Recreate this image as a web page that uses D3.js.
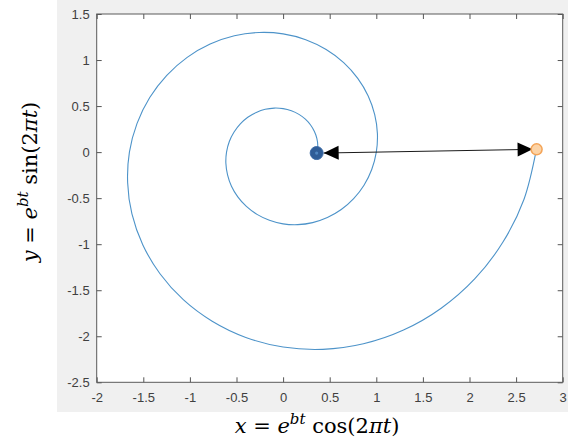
<!DOCTYPE html>
<html>
<head>
<meta charset="utf-8">
<script src="https://cdn.jsdelivr.net/npm/d3@7"></script>
<style>
  body { margin: 0; background: #fff; }
  .tick text { font-family: "Liberation Sans", Arial, sans-serif; font-size: 13px; fill: #404040; }
  .math { font-family: "DejaVu Serif", "Liberation Serif", serif; font-size: 21px; fill: #000; }
</style>
</head>
<body>
<div id="chart"></div>
<script>
// spiral points, about every 1/32 of a turn (start -> end)
const spiralX = [0.360, 0.372, 0.362, 0.336, 0.295, 0.239, 0.170, 0.089, 0.000, -0.095, -0.192, -0.288, -0.379, -0.459, -0.526, -0.577,
                 -0.607, -0.614, -0.596, -0.554, -0.486, -0.394, -0.280, -0.147, 0.000, 0.157, 0.317, 0.475, 0.624, 0.757, 0.868, 0.951,
                 1.000, 1.012, 0.983, 0.913, 0.801, 0.650, 0.462, 0.243, 0.000, -0.258, -0.523, -0.783, -1.029, -1.248, -1.431, -1.567,
                 -1.649, -1.668, -1.622, -1.506, -1.321, -1.071, -0.761, -0.400, 0.000, 0.426, 0.862, 1.292, 1.696, 2.058, 2.359, 2.584, 2.718];
const spiralY = [-0.010, 0.074, 0.150, 0.224, 0.295, 0.358, 0.410, 0.449, 0.472, 0.478, 0.465, 0.431, 0.379, 0.307, 0.218, 0.115,
                 0.000, -0.122, -0.247, -0.370, -0.486, -0.590, -0.676, -0.740, -0.779, -0.788, -0.766, -0.711, -0.624, -0.506, -0.360, -0.189,
                 0.000, 0.201, 0.407, 0.610, 0.801, 0.972, 1.114, 1.221, 1.284, 1.299, 1.263, 1.173, 1.029, 0.834, 0.593, 0.312,
                 0.000, -0.332, -0.672, -1.006, -1.321, -1.603, -1.837, -2.013, -2.117, -2.142, -2.082, -1.933, -1.696, -1.375, -0.977, -0.514, 0.030];

const startPoint = [0.36, -0.01];
const endPoint = [2.72, 0.03];

const xTicks = [-2, -1.5, -1, -0.5, 0, 0.5, 1, 1.5, 2, 2.5, 3];
const yTicks = [-2.5, -2, -1.5, -1, -0.5, 0, 0.5, 1, 1.5];

const W = 568, H = 447;
const margin = {top: 14, right: 5.3, bottom: 64.7, left: 96.7};

const svg = d3.select("#chart").append("svg")
    .attr("width", W)
    .attr("height", H);

// grey figure background
svg.append("rect")
    .attr("x", 57).attr("y", 0)
    .attr("width", W - 57).attr("height", 412)
    .attr("fill", "#f0f0f0");

const x = d3.scaleLinear().domain([-2, 3]).range([margin.left, W - margin.right]);
const y = d3.scaleLinear().domain([-2.5, 1.5]).range([H - margin.bottom, margin.top]);

svg.append("rect")
    .attr("x", x(-2)).attr("y", y(1.5))
    .attr("width", x(3) - x(-2)).attr("height", y(-2.5) - y(1.5))
    .attr("fill", "#fff");

const fmt = d => String(d);

// axes with inward ticks on every side
function styleAxis(g) {
    g.select(".domain").remove();
    g.selectAll(".tick line").attr("stroke", "#555");
}
svg.append("g")
    .attr("transform", "translate(0," + y(-2.5) + ")")
    .call(d3.axisBottom(x).tickValues(xTicks).tickFormat(fmt).tickSizeInner(-5).tickSizeOuter(0).tickPadding(10))
    .call(styleAxis);
svg.append("g")
    .attr("transform", "translate(0," + y(1.5) + ")")
    .call(d3.axisTop(x).tickValues(xTicks).tickFormat("").tickSizeInner(-5).tickSizeOuter(0))
    .call(styleAxis);
svg.append("g")
    .attr("transform", "translate(" + x(-2) + ",0)")
    .call(d3.axisLeft(y).tickValues(yTicks).tickFormat(fmt).tickSizeInner(-5).tickSizeOuter(0).tickPadding(7))
    .call(styleAxis);
svg.append("g")
    .attr("transform", "translate(" + x(3) + ",0)")
    .call(d3.axisRight(y).tickValues(yTicks).tickFormat("").tickSizeInner(-5).tickSizeOuter(0))
    .call(styleAxis);

// box
svg.append("rect")
    .attr("x", x(-2)).attr("y", y(1.5))
    .attr("width", x(3) - x(-2)).attr("height", y(-2.5) - y(1.5))
    .attr("fill", "none")
    .attr("stroke", "#5a5a5a")
    .attr("stroke-width", 1);

// spiral
const pts = spiralX.map((d, i) => [d, spiralY[i]]);
const line = d3.line()
    .x(d => x(d[0]))
    .y(d => y(d[1]))
    .curve(d3.curveCatmullRom.alpha(0.5));

svg.append("path")
    .datum(pts)
    .attr("d", line)
    .attr("fill", "none")
    .attr("stroke", "#4d93c9")
    .attr("stroke-width", 1.1);

// double headed arrow between the two points
const x1 = x(startPoint[0]) + 7, y1 = y(startPoint[1]);
const x2 = x(endPoint[0]) - 4, y2 = y(endPoint[1]);
const ang = Math.atan2(y2 - y1, x2 - x1);
const headLen = 15, headW = 7;

svg.append("line")
    .attr("x1", x1).attr("y1", y1)
    .attr("x2", x2).attr("y2", y2)
    .attr("stroke", "#1a1a1a")
    .attr("stroke-width", 1);

function head(tx, ty, a) {
    const bx = tx - headLen * Math.cos(a), by = ty - headLen * Math.sin(a);
    const px = -Math.sin(a) * headW, py = Math.cos(a) * headW;
    return "M" + tx + "," + ty + "L" + (bx + px) + "," + (by + py) + "L" + (bx - px) + "," + (by - py) + "Z";
}
svg.append("path").attr("d", head(x1, y1, ang + Math.PI)).attr("fill", "#000");
svg.append("path").attr("d", head(x2, y2, ang)).attr("fill", "#000");

// markers
svg.append("circle")
    .attr("cx", x(startPoint[0])).attr("cy", y(startPoint[1]))
    .attr("r", 6.5)
    .attr("fill", "#2f5d97")
    .attr("stroke", "#3a6aa6");
svg.append("circle")
    .attr("cx", x(startPoint[0])).attr("cy", y(startPoint[1]))
    .attr("r", 1.6)
    .attr("fill", "#4f86c0");
svg.append("circle")
    .attr("cx", x(endPoint[0])).attr("cy", y(endPoint[1]))
    .attr("r", 5.5)
    .attr("fill", "#fcd3a6")
    .attr("stroke", "#f4a457")
    .attr("stroke-width", 1.5);

// axis labels
function mathLabel(sel, v, fn) {
    sel.append("tspan").attr("font-style", "italic").text(v);
    sel.append("tspan").text(" = ");
    sel.append("tspan").attr("font-style", "italic").text("e");
    sel.append("tspan").attr("font-style", "italic").attr("font-size", "15px").attr("dy", -9).text("bt");
    sel.append("tspan").attr("dy", 9).text(" " + fn + "(2");
    sel.append("tspan").attr("font-style", "italic").text("πt");
    sel.append("tspan").text(")");
}
svg.append("text").attr("class", "math")
    .attr("x", 317).attr("y", 433)
    .attr("text-anchor", "middle")
    .call(mathLabel, "x", "cos");

svg.append("text").attr("class", "math")
    .attr("transform", "translate(37,182) rotate(-90)")
    .attr("text-anchor", "middle")
    .call(mathLabel, "y", "sin");
</script>
</body>
</html>
